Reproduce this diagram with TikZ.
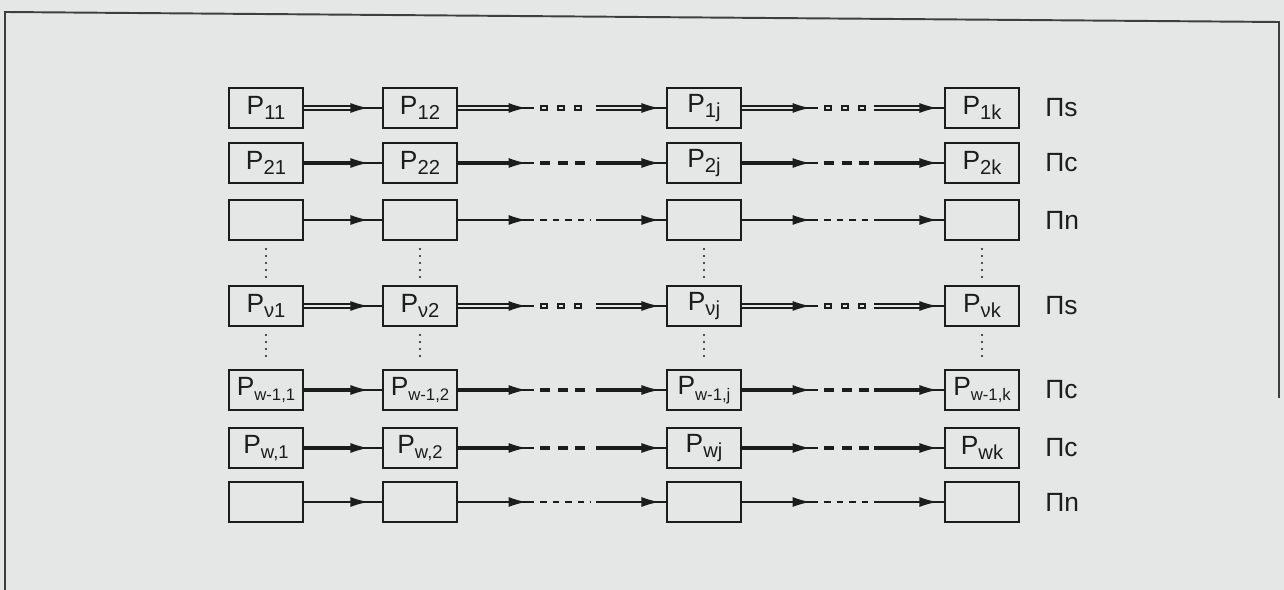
\documentclass[tikz,border=0pt]{standalone}
\usepackage{fontspec}
\setmainfont{Liberation Sans}
\usetikzlibrary{arrows.meta,decorations.markings}
\definecolor{paper}{RGB}{229,231,231}
\definecolor{ink}{RGB}{28,28,28}
\newcommand{\Pix}[2][11.5]{P\raisebox{-1.1mm}{\fontsize{#1}{12}\selectfont#2}}
\tikzset{
    proc/.style={
        rectangle, draw=ink, line width=1.2pt,
        minimum width=14.8mm, minimum height=8mm,
        inner sep=0pt, text=ink,
        font=\fontsize{15}{16}\selectfont,
    },
    kind/.style={
        anchor=west, inner sep=0pt, text=ink,
        font=\fontsize{15}{16}\selectfont,
    },
    head at/.style={
        postaction={decorate, decoration={markings,
            mark=at position -#1 with {\arrow{Latex[length=3.5mm,width=2mm]}}}},
    },
    s-arrow/.style={
        draw=ink, line width=0.7pt,
        postaction={draw=ink, double=paper, line width=0.8pt,
            double distance=1.5pt, shorten >=#1+3.3mm},
        head at=#1,
    },
    c-arrow/.style={
        draw=ink, line width=0.7pt,
        postaction={draw=ink, line width=2.5pt, shorten >=#1+3.3mm},
        head at=#1,
    },
    n-arrow/.style={
        draw=ink, line width=0.7pt, head at=#1,
    },
    s-dash/.style={
        draw=ink, line width=3.1pt, dash pattern=on 1.5mm off 1.9mm,
        postaction={draw=paper, line width=1.5pt,
            dash pattern=on 0.9mm off 2.5mm, dash phase=3.1mm},
    },
    c-dash/.style={
        draw=ink, line width=2.5pt, dash pattern=on 2mm off 1.5mm,
    },
    n-dash/.style={
        draw=ink, line width=0.7pt, dash pattern=on 1.3mm off 1.2mm,
    },
    vdots/.style={
        draw=ink, line width=1.3pt, line cap=round,
        dash pattern=on 0pt off 1.4mm,
        shorten <=1.6mm, shorten >=1.2mm,
    },
}
\begin{document}
\begin{tikzpicture}[x=0.2mm, y=-0.2mm]
    \fill[paper] (0,0) rectangle (1284,590);
    \useasboundingbox (0,0) rectangle (1284,590);
    % frame of the scanned figure
    \draw[ink!85, line width=1.1pt] (5,590) -- (5,12) -- (1279,22) -- (1279,398);
    % one row of processors per line
    \foreach \r/\y/\k/\a/\b/\j/\z in {
        1/108/s/\Pix{11}/\Pix{12}/\Pix{1j}/\Pix{1k},
        2/163/c/\Pix{21}/\Pix{22}/\Pix{2j}/\Pix{2k},
        3/220/n/{}/{}/{}/{},
        4/306/s/\Pix{ν1}/\Pix{ν2}/\Pix{νj}/\Pix{νk},
        5/390/c/\Pix[9.5]{w-1,1}/\Pix[9.5]{w-1,2}/\Pix[9.5]{w-1,j}/\Pix[9.5]{w-1,k},
        6/448/c/\Pix[10.5]{w,1}/\Pix[10.5]{w,2}/\Pix{wj}/\Pix{wk},
        7/502/n/{}/{}/{}/{}%
    }{
        \node[proc] (p\r-1) at (266,\y) {\a};
        \node[proc] (p\r-2) at (420,\y) {\b};
        \node[proc] (p\r-j) at (704,\y) {\j};
        \node[proc] (p\r-k) at (982,\y) {\z};
        \node[kind] (t\r) at (1045,\y) {Π\k};
        \draw[\k-arrow=2.8mm] (p\r-1) -- (p\r-2);
        \draw[\k-arrow=1.6mm] (p\r-2.east) -- ++(15.2mm,0);
        \draw[\k-dash] ([xshift=16.4mm]p\r-2.east) -- ([xshift=-15mm]p\r-j.west);
        \draw[\k-arrow=1.4mm] ([xshift=-14mm]p\r-j.west) -- (p\r-j);
        \draw[\k-arrow=1.6mm] (p\r-j.east) -- ++(15.2mm,0);
        \draw[\k-dash] ([xshift=16.4mm]p\r-j.east) -- ([xshift=-15mm]p\r-k.west);
        \draw[\k-arrow=1.4mm] ([xshift=-14mm]p\r-k.west) -- (p\r-k);
    }
    \foreach \c in {1,2,j,k} {
        \draw[vdots] (p3-\c.south) -- (p4-\c.north);
        \draw[vdots] (p4-\c.south) -- (p5-\c.north);
    }
\end{tikzpicture}
\end{document}
